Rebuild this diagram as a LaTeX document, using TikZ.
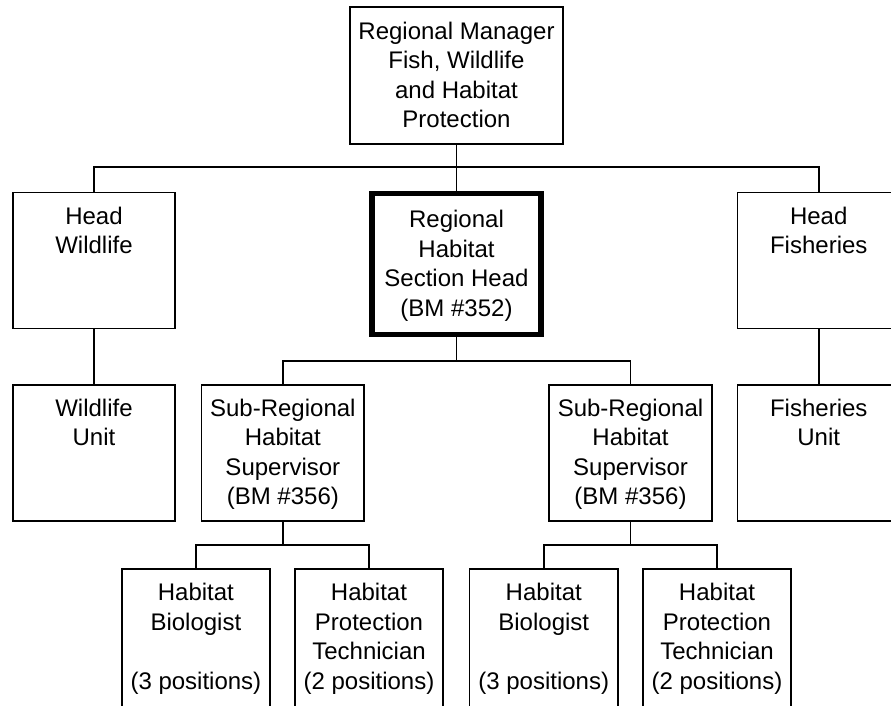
\documentclass[tikz,border=0pt]{standalone}
\usepackage{fontspec}
\setmainfont{Liberation Sans}
\begin{document}
\begin{tikzpicture}[x=1pt,y=-1pt,
  box/.style={draw=black, line width=1.6pt, inner sep=0pt, rectangle, anchor=center},
  headbox/.style={box, line width=5.5pt},
  txt/.style={anchor=north, inner sep=0pt, align=center, font=\fontsize{24}{29.5}\selectfont},
  conn/.style={draw=black, line width=1.6pt}]
\useasboundingbox (0,0) rectangle (891,705);
\clip (0,0) rectangle (891,705);
% boxes
\node[box, minimum width=213.5pt, minimum height=137.5pt] (top) at (456.5,75.5) {};
\node[box, minimum width=162.5pt, minimum height=136pt] (hw) at (94,260.5) {};
\node[headbox, minimum width=169.3pt, minimum height=141pt] (rh) at (456.5,263.95) {};
\node[box, minimum width=162.5pt, minimum height=136pt] (hf) at (818.75,260.5) {};
\node[box, minimum width=162.5pt, minimum height=136.25pt] (wu) at (94,452.9) {};
\node[box, minimum width=162.8pt, minimum height=136.25pt] (sl) at (282.85,452.9) {};
\node[box, minimum width=163.5pt, minimum height=136.25pt] (sr) at (630.5,452.9) {};
\node[box, minimum width=162.5pt, minimum height=136.25pt] (fu) at (818.75,452.9) {};
\node[box, minimum width=148.25pt, minimum height=170pt] (b1) at (195.9,654.25) {};
\node[box, minimum width=148.5pt, minimum height=170pt] (b2) at (369,654.25) {};
\node[box, minimum width=148.5pt, minimum height=170pt] (b3) at (543.75,654.25) {};
\node[box, minimum width=148.5pt, minimum height=170pt] (b4) at (717,654.25) {};
% texts
\node[txt] (ttop) at ([yshift=-15.5pt]top.north) {Regional Manager\\Fish, Wildlife\\and Habitat\\Protection};
\node[txt] (thw) at ([yshift=-15pt]hw.north) {Head\\Wildlife};
\node[txt] (trh) at ([yshift=-19.3pt]rh.north) {Regional\\Habitat\\Section Head\\(BM \#352)};
\node[txt] (thf) at ([yshift=-15pt]hf.north) {Head\\Fisheries};
\node[txt] (twu) at ([yshift=-14.5pt]wu.north) {Wildlife\\Unit};
\node[txt] (tsl) at ([yshift=-14.5pt]sl.north) {Sub-Regional\\Habitat\\Supervisor\\(BM \#356)};
\node[txt] (tsr) at ([yshift=-14.5pt]sr.north) {Sub-Regional\\Habitat\\Supervisor\\(BM \#356)};
\node[txt] (tfu) at ([yshift=-14.5pt]fu.north) {Fisheries\\Unit};
\node[txt] (tb1) at ([yshift=-14.5pt]b1.north) {Habitat\\Biologist\\\mbox{}\\(3 positions)};
\node[txt] (tb2) at ([yshift=-14.5pt]b2.north) {Habitat\\Protection\\Technician\\(2 positions)};
\node[txt] (tb3) at ([yshift=-14.5pt]b3.north) {Habitat\\Biologist\\\mbox{}\\(3 positions)};
\node[txt] (tb4) at ([yshift=-14.5pt]b4.north) {Habitat\\Protection\\Technician\\(2 positions)};
% bus coordinates
\coordinate (bus1) at (top.south |- 0,167);
\coordinate (bus2) at (rh.south |- 0,361);
\coordinate (bus3l) at (sl.south |- 0,545);
\coordinate (bus3r) at (sr.south |- 0,545);
% connectors
\draw[conn] (top.south) -- (rh.north);
\draw[conn] (hw.north) |- (bus1) -| (hf.north);
\draw[conn] (hw.south) -- (wu.north);
\draw[conn] (hf.south) -- (fu.north);
\draw[conn] (rh.south) -- (bus2);
\draw[conn] (sl.north) |- (bus2) -| (sr.north);
\draw[conn] (sl.south) -- (bus3l);
\draw[conn] (b1.north) |- (bus3l) -| (b2.north);
\draw[conn] (sr.south) -- (bus3r);
\draw[conn] (b3.north) |- (bus3r) -| (b4.north);
\end{tikzpicture}
\end{document}
